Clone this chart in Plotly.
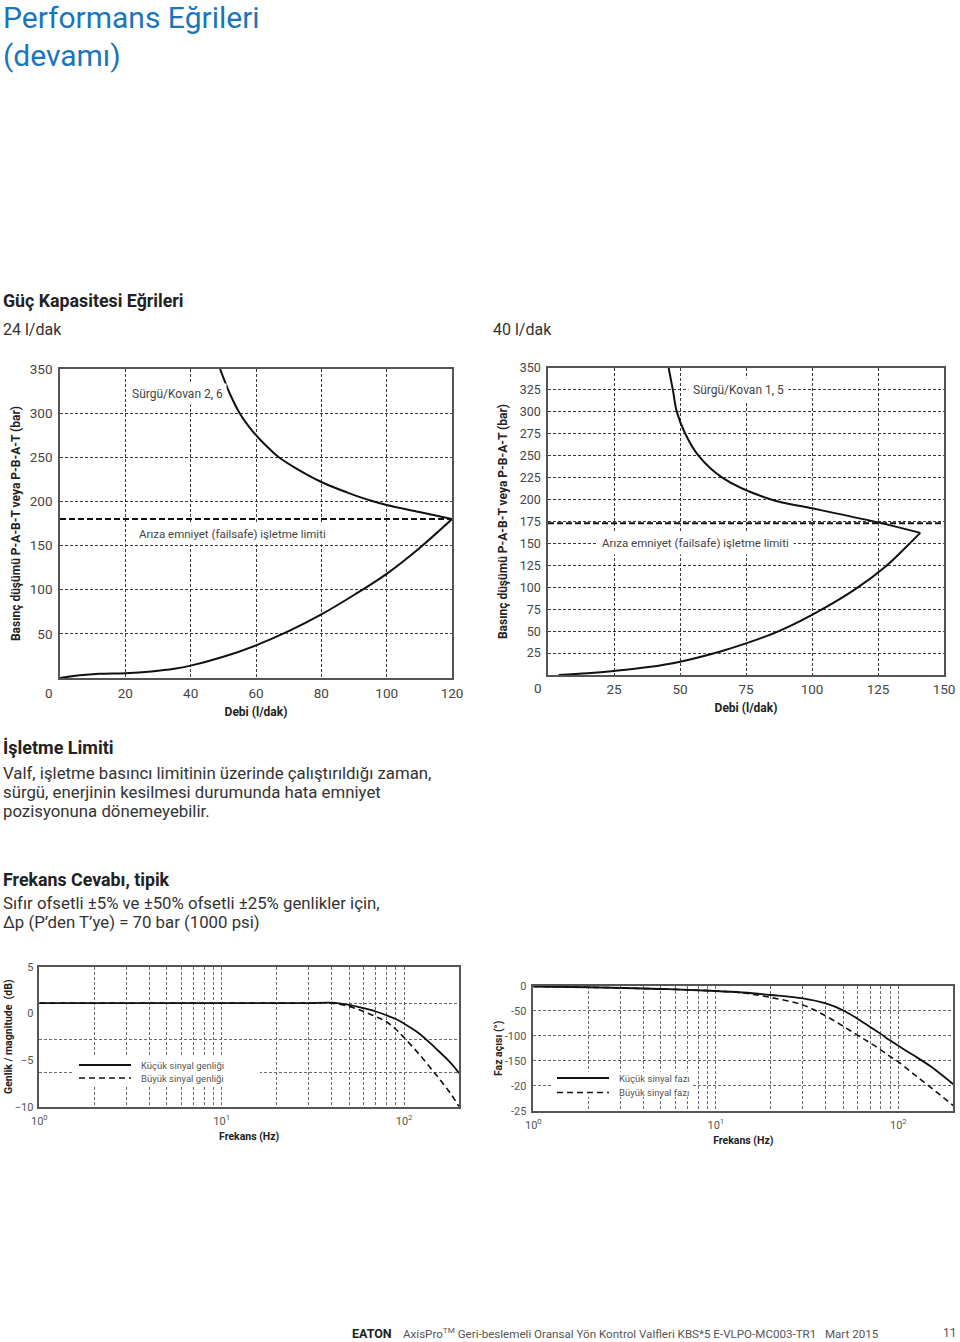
import plotly.graph_objects as go

# ---------------- data ----------------
# Chart 1: 24 l/dak, Sürgü/Kovan 2, 6
c1_upper_flow = [49, 52, 55, 58, 61, 64, 67, 72, 80, 88, 95, 100, 110, 120]
c1_upper_bar = [350, 322, 300, 284, 271, 260, 250, 238, 222, 210, 201, 196, 188, 180]
c1_lower_flow = [0, 6, 12, 20, 28, 35, 40, 50, 60, 70, 80, 90, 100, 110, 120]
c1_lower_bar = [0, 3, 4.8, 5.5, 7.5, 10.5, 14, 24, 37, 53, 72, 94, 118, 147, 180]
c1_limit_flow = [0, 120]
c1_limit_bar = [180, 180]
c1_xticks = [20, 40, 60, 80, 100, 120]
c1_yticks = [50, 100, 150, 200, 250, 300, 350]

# Chart 2: 40 l/dak, Sürgü/Kovan 1, 5
c2_upper_flow = [45.7, 47.3, 48.8, 52, 57, 66, 84.5, 100, 125, 141]
c2_upper_bar = [350, 325, 300, 275, 250, 225, 200, 190, 174, 162]
c2_lower_flow = [141, 137, 128, 116, 100, 87, 75, 65, 50, 38, 25, 15, 4]
c2_lower_bar = [162, 150, 124, 97, 68.5, 49.4, 36, 26.6, 15.2, 9, 4.6, 2, 0]
c2_limit_flow = [0, 150]
c2_limit_bar = [173, 173]
c2_xticks = [25, 50, 75, 100, 125, 150]
c2_yticks = [25, 50, 75, 100, 125, 150, 175, 200, 225, 250, 275, 300, 325, 350]

# Chart 3: amplitude (dB)
amp_freq = [1, 2, 5, 10, 20, 30, 40, 50, 60, 70, 80, 90, 100, 120, 150, 180, 200]
amp_small = [1.1, 1.1, 1.1, 1.1, 1.1, 1.1, 1.15, 0.9, 0.55, 0.2, -0.2, -0.6, -1.1, -2.1, -3.8, -5.3, -6.4]
amp_large = [1.1, 1.1, 1.1, 1.1, 1.1, 1.1, 1.1, 0.75, 0.2, -0.35, -0.9, -1.7, -2.6, -4.3, -6.6, -8.6, -10.0]
amp_yticks = [5, 0, -5, -10]
amp_ygrid = [1.1, -2.8, -6.3]

# Chart 4: phase (deg)
ph_freq = [1, 2, 5, 10, 14, 20, 30, 40, 50, 60, 70, 80, 90, 100, 120, 150, 200]
ph_small = [-1, -2.5, -6, -10, -13, -18, -25, -35, -49, -66, -82, -96, -109, -120, -138, -161, -197]
ph_large = [-1, -2.5, -6, -10, -14, -23, -38, -60, -81, -99, -114, -128, -141, -152, -175, -203, -240]
ph_yticks = [0, -50, -100, -150, -200, -250]
ph_yticktext = ["0", "-50", "-100", "-150", "-20", "-25"]

# log axis: labelled decades and minor grid positions (2..9, 20..90)
log_major = [1, 10, 100]
log_major_text = ["10<sup>0</sup>", "10<sup>1</sup>", "10<sup>2</sup>"]
log_minor = [m * 10 ** d for d in (0, 1) for m in range(2, 10)]

# ---------------- styling ----------------
W, H = 960, 1342
CF = "Liberation Sans Narrow, Arial Narrow, Roboto, sans-serif"
BF = "Roboto, Noto Sans, Arial, sans-serif"
BLUE = "#1b75bb"
TXT = "#333333"
GRID = "#3a3a3a"
GRID2 = "#6a6a6a"
BORDER = "#555555"


def px(x):
    return x / W


def py(y):
    return 1 - y / H


fig = go.Figure()

line_main = dict(color="#111111", width=2)
fig.add_trace(go.Scatter(x=c1_upper_flow, y=c1_upper_bar, mode="lines", line=dict(**line_main, shape="spline"),
                         xaxis="x", yaxis="y", showlegend=False, name="Sürgü/Kovan 2, 6"))
fig.add_trace(go.Scatter(x=c1_lower_flow, y=c1_lower_bar, mode="lines", line=dict(**line_main, shape="spline"),
                         xaxis="x", yaxis="y", showlegend=False, name="Sürgü/Kovan 2, 6"))
fig.add_trace(go.Scatter(x=c1_limit_flow, y=c1_limit_bar, mode="lines",
                         line=dict(color="#111111", width=2, dash="6px,3px"),
                         xaxis="x", yaxis="y", showlegend=False, name="Arıza emniyet (failsafe) işletme limiti"))

fig.add_trace(go.Scatter(x=c2_upper_flow, y=c2_upper_bar, mode="lines", line=dict(**line_main, shape="spline"),
                         xaxis="x2", yaxis="y2", showlegend=False, name="Sürgü/Kovan 1, 5"))
fig.add_trace(go.Scatter(x=c2_lower_flow, y=c2_lower_bar, mode="lines", line=dict(**line_main, shape="spline"),
                         xaxis="x2", yaxis="y2", showlegend=False, name="Sürgü/Kovan 1, 5"))
fig.add_trace(go.Scatter(x=c2_limit_flow, y=c2_limit_bar, mode="lines",
                         line=dict(color="#111111", width=2, dash="6px,3px"),
                         xaxis="x2", yaxis="y2", showlegend=False, name="Arıza emniyet (failsafe) işletme limiti"))

fig.add_trace(go.Scatter(x=amp_freq, y=amp_large, mode="lines",
                         line=dict(color="#111111", width=1.6, dash="6px,4px", shape="spline"),
                         xaxis="x3", yaxis="y3", showlegend=False, name="Büyük sinyal genliği"))
fig.add_trace(go.Scatter(x=amp_freq, y=amp_small, mode="lines",
                         line=dict(color="#111111", width=1.8, shape="spline"),
                         xaxis="x3", yaxis="y3", showlegend=False, name="Küçük sinyal genliği"))

fig.add_trace(go.Scatter(x=ph_freq, y=ph_large, mode="lines",
                         line=dict(color="#111111", width=1.6, dash="6px,4px", shape="spline"),
                         xaxis="x4", yaxis="y4", showlegend=False, name="Büyük sinyal fazı"))
fig.add_trace(go.Scatter(x=ph_freq, y=ph_small, mode="lines",
                         line=dict(color="#111111", width=1.8, shape="spline"),
                         xaxis="x4", yaxis="y4", showlegend=False, name="Küçük sinyal fazı"))

ax_common = dict(showline=True, mirror=True, linecolor=BORDER, linewidth=1.5, ticks="",
                 zeroline=False, griddash="3px,2px", gridwidth=1, automargin=False)
log_minor_grid = dict(tickmode="array", tickvals=log_minor, showgrid=True, gridcolor=GRID2,
                      griddash="3px,2px", gridwidth=1, ticks="")

title_font = dict(family=CF, size=12, color="#222222", weight="bold")
small_title = dict(family=CF, size=10.5, color="#222", weight="bold")

fig.update_layout(
    width=W, height=H, margin=dict(l=0, r=0, t=0, b=0, autoexpand=False),
    paper_bgcolor="white", plot_bgcolor="white",
    xaxis=dict(**ax_common, domain=[px(60), px(452)], range=[0, 120], tickvals=c1_xticks,
               gridcolor=GRID, tickfont=dict(family=CF, size=13.5, color="#444"), anchor="y",
               ticklabelstandoff=2,
               title=dict(text="Debi (l/dak)", font=title_font, standoff=8)),
    yaxis=dict(**ax_common, domain=[py(678), py(369)], range=[0, 350], tickvals=c1_yticks,
               gridcolor=GRID, tickfont=dict(family=CF, size=13.5, color="#444"), anchor="x",
               ticklabelstandoff=3,
               title=dict(text="Basınç düşümü P-A-B-T veya P-B-A-T (bar)", font=title_font, standoff=7)),
    xaxis2=dict(**ax_common, domain=[px(548), px(944)], range=[0, 150], tickvals=c2_xticks,
                gridcolor=GRID, tickfont=dict(family=CF, size=13.5, color="#444"), anchor="y2",
                ticklabelstandoff=1,
                title=dict(text="Debi (l/dak)", font=title_font, standoff=8)),
    yaxis2=dict(**ax_common, domain=[py(675), py(368)], range=[0, 350], tickvals=c2_yticks,
                gridcolor=GRID, tickfont=dict(family=CF, size=12.5, color="#444"), anchor="x2",
                ticklabelstandoff=3,
                title=dict(text="Basınç düşümü P-A-B-T veya P-B-A-T (bar)", font=title_font, standoff=9)),
    xaxis3=dict(**ax_common, type="log", domain=[px(39.3), px(459)], range=[0, 2.30103],
                tickvals=log_major, ticktext=log_major_text, gridcolor=GRID2, minor=log_minor_grid,
                tickfont=dict(family=CF, size=11, color="#555"), anchor="y3", ticklabelstandoff=3,
                title=dict(text="Frekans (Hz)", font=small_title, standoff=6)),
    yaxis3=dict(showline=True, mirror=True, linecolor=BORDER, linewidth=1.5, ticks="", zeroline=False,
                automargin=False,
                domain=[py(1106.7), py(966.7)], range=[-10, 5], tickvals=amp_yticks, showgrid=False,
                minor=dict(tickmode="array", tickvals=amp_ygrid, showgrid=True, gridcolor=GRID2,
                           griddash="3px,2px", gridwidth=1, ticks=""),
                tickfont=dict(family=CF, size=11, color="#555"), anchor="x3", ticklabelstandoff=2,
                title=dict(text="Genlik / magnitude  (dB)", font=small_title, standoff=0)),
    xaxis4=dict(**ax_common, type="log", domain=[px(533.3), px(953.3)], range=[0, 2.30103],
                tickvals=log_major, ticktext=log_major_text, gridcolor=GRID2, minor=log_minor_grid,
                tickfont=dict(family=CF, size=11, color="#555"), anchor="y4", ticklabelstandoff=3,
                title=dict(text="Frekans (Hz)", font=small_title, standoff=6)),
    yaxis4=dict(**ax_common, domain=[py(1110.7), py(986)], range=[-250, 0], tickvals=ph_yticks,
                ticktext=ph_yticktext, gridcolor=GRID2,
                tickfont=dict(family=CF, size=11, color="#555"), anchor="x4", ticklabelstandoff=3,
                title=dict(text="Faz açısı (°)", font=small_title, standoff=0)),
)

shapes = []
# legend masks (hide grid behind legend; drawn between grid and traces)
shapes.append(dict(type="rect", xref="x3", yref="y3", x0=1.53, x1=16.2, y0=-7.86, y1=-4.64,
                   fillcolor="white", line=dict(width=0), layer="between"))
shapes.append(dict(type="rect", xref="x4", yref="y4", x0=1.26, x1=7.38, y0=-221.9, y1=-171.8,
                   fillcolor="white", line=dict(width=0), layer="between"))
# legend samples
shapes.append(dict(type="line", xref="paper", yref="paper", x0=px(79), x1=px(131), y0=py(1065), y1=py(1065),
                   line=dict(color="#111", width=1.8)))
shapes.append(dict(type="line", xref="paper", yref="paper", x0=px(79), x1=px(131), y0=py(1078), y1=py(1078),
                   line=dict(color="#111", width=1.6, dash="6px,4px")))
shapes.append(dict(type="line", xref="paper", yref="paper", x0=px(557), x1=px(609), y0=py(1078), y1=py(1078),
                   line=dict(color="#111", width=1.8)))
shapes.append(dict(type="line", xref="paper", yref="paper", x0=px(557), x1=px(609), y0=py(1092.5), y1=py(1092.5),
                   line=dict(color="#111", width=1.6, dash="6px,4px")))
fig.update_layout(shapes=shapes)

ann = []


def text(x, y, s, size=16, color=TXT, family=BF, bold=False, xanchor="left", **kw):
    ann.append(dict(x=px(x), y=py(y), xref="paper", yref="paper", text=s, showarrow=False,
                    xanchor=xanchor, yanchor="middle",
                    font=dict(family=family, size=size, color=color, weight="bold" if bold else "normal"), **kw))


BODY = 16.8
# page text
text(1, 18, "Performans Eğrileri", size=30, color=BLUE)
text(1, 55, "(devamı)", size=30, color=BLUE)
text(1, 300, "Güç Kapasitesi Eğrileri", size=17.8, color="#222", bold=True)
text(1, 329, "24 l/dak", size=16)
text(491, 329, "40 l/dak", size=16)
text(1, 748, "İşletme Limiti", size=18, color="#222", bold=True)
text(1, 773, "Valf, işletme basıncı limitinin üzerinde çalıştırıldığı zaman,", size=BODY)
text(1, 792, "sürgü, enerjinin kesilmesi durumunda hata emniyet", size=BODY)
text(1, 811, "pozisyonuna dönemeyebilir.", size=BODY)
text(1, 862, ".", size=6, color="#999")
text(1, 879, "Frekans Cevabı, tipik", size=17.8, color="#222", bold=True)
text(1, 903, "Sıfır ofsetli ±5% ve ±50% ofsetli ±25% genlikler için,", size=BODY)
text(1, 922, "Δp (P’den T’ye) = 70 bar (1000 psi)", size=BODY)

# chart origin labels
text(49, 693, "0", size=13.5, color="#444", family=CF, xanchor="center")
text(538, 688, "0", size=13.5, color="#444", family=CF, xanchor="center")

# chart annotations (white background hides grid)
ann.append(dict(x=36, y=322, xref="x", yref="y", text="Sürgü/Kovan 2, 6", showarrow=False,
                bgcolor="white", borderpad=3, font=dict(family=CF, size=12, color="#444")))
ann.append(dict(x=52.7, y=163, xref="x", yref="y", text="Arıza emniyet (failsafe) işletme limiti", showarrow=False,
                bgcolor="white", borderpad=3, font=dict(family=CF, size=11.5, color="#444")))
ann.append(dict(x=72, y=325, xref="x2", yref="y2", text="Sürgü/Kovan 1, 5", showarrow=False,
                bgcolor="white", borderpad=4, font=dict(family=CF, size=12, color="#444")))
ann.append(dict(x=55.8, y=150, xref="x2", yref="y2", text="Arıza emniyet (failsafe) işletme limiti", showarrow=False,
                bgcolor="white", borderpad=4, font=dict(family=CF, size=11.5, color="#444")))

# legend text
text(139, 1065, "Küçük sinyal genliği", size=9.5, color="#555", family=CF)
text(139, 1078, "Büyük sinyal genliği", size=9.5, color="#555", family=CF)
text(617, 1078, "Küçük sinyal fazı", size=9.5, color="#555", family=CF)
text(617, 1092, "Büyük sinyal fazı", size=9.5, color="#555", family=CF)

# footer
text(350, 1333, "EATON", size=12.5, color="#222", bold=True)
text(401, 1333, "AxisPro<sup>TM</sup> Geri-beslemeli Oransal Yön Kontrol Valfleri KBS*5 E-VLPO-MC003-TR1   Mart 2015",
     size=11.6, color="#555")
text(959, 1333, "11", size=12, color="#555", xanchor="right")

fig.update_layout(annotations=ann)
fig.write_html("out.html")
